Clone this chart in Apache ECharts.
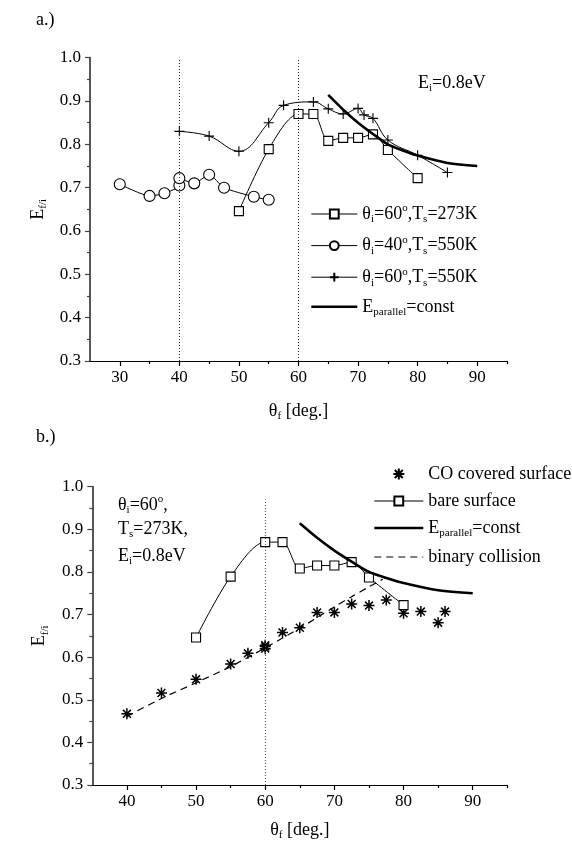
<!DOCTYPE html>
<html><head><meta charset="utf-8">
<script src="https://cdn.jsdelivr.net/npm/echarts@6/dist/echarts.min.js"></script>
<style>html,body{margin:0;padding:0;background:#fff}#c{width:572px;height:842px}</style>
</head><body><div id="c"></div>
<script>
// ---------- data ----------
const sqX   = [50, 55, 60, 62.5, 65, 67.5, 70, 72.5, 75, 80];
const sqY   = [0.646, 0.789, 0.870, 0.870, 0.808, 0.815, 0.815, 0.823, 0.787, 0.722];
const ciX   = [30, 35, 37.5, 40, 40, 42.5, 45, 47.5, 52.5, 55];
const ciY   = [0.708, 0.681, 0.687, 0.705, 0.722, 0.710, 0.730, 0.700, 0.679, 0.672];
const plX   = [40, 45, 50, 55, 57.5, 62.5, 65, 67.5, 70, 71, 72.5, 75, 80, 85];
const plY   = [0.830, 0.819, 0.784, 0.850, 0.890, 0.898, 0.882, 0.870, 0.883, 0.868, 0.860, 0.810, 0.775, 0.735];
const epX   = [65, 67.5, 70, 72.5, 75, 77.5, 80, 85, 90];
const epY   = [0.914, 0.880, 0.850, 0.824, 0.800, 0.786, 0.774, 0.757, 0.750];
const stX   = [40, 45, 50, 55, 57.5, 60, 60, 60, 62.5, 65, 67.5, 70, 72.5, 75, 77.5, 80, 82.5, 85, 86];
const stY   = [0.467, 0.516, 0.548, 0.584, 0.609, 0.620, 0.625, 0.628, 0.658, 0.669, 0.705, 0.705, 0.725, 0.721, 0.734, 0.703, 0.707, 0.681, 0.707];
const bcX   = [40, 45, 50, 55, 60, 65, 70, 72.5, 75, 77];
const bcY   = [0.461, 0.503, 0.540, 0.578, 0.622, 0.668, 0.718, 0.742, 0.765, 0.783];
const vLinesA = [40, 60];
const vLineB  = 60;
const vLineBTop = 0.97;
const xMajorA = [30, 40, 50, 60, 70, 80, 90];
const xMinorA = [35, 45, 55, 65, 75, 85, 95];
const xMajorB = [40, 50, 60, 70, 80, 90];
const xMinorB = [45, 55, 65, 75, 85, 95];

// ---------- styling ----------
const F = '"Liberation Serif","Times New Roman",serif';
const rich = {
  n: {fontFamily: F, fontSize: 18, lineHeight: 22, color: '#000'},
  s: {fontFamily: F, fontSize: 11, lineHeight: 11, verticalAlign: 'bottom', color: '#000', padding: [3, 0, 0, 0]},
  p: {fontFamily: F, fontSize: 11, lineHeight: 11, verticalAlign: 'top', color: '#000'}
};
const pair = (xs, ys) => xs.map((x, i) => [x, ys[i]]);
const plusPath = 'path://M5,0L5,10M0,5L10,5';
const starPath = 'path://M5,0L5,10M0,5L10,5M1.4,1.4L8.6,8.6M8.6,1.4L1.4,8.6';
const noSym = {color: 'rgba(0,0,0,0)', borderColor: 'rgba(0,0,0,0)', borderWidth: 0};
const thinL = {color: '#000', width: 1};
const thickL = {color: '#000', width: 2.6};

function yAx(gi, gap) {
  return {
    gridIndex: gi, type: 'value', min: 0.3, max: 1.0, interval: 0.1,
    axisLine: {show: true, lineStyle: {color: '#444', width: 1.8}},
    axisTick: {show: true, length: 5, lineStyle: {color: '#444', width: 1.2}},
    minorTick: {show: true, splitNumber: 2, length: 3, lineStyle: {color: '#444', width: 1.2}},
    splitLine: {show: false},
    axisLabel: {fontFamily: F, fontSize: 17, color: '#000', margin: 9, formatter: v => v.toFixed(1)},
    name: '{n|E}{s|f/i}', nameLocation: 'middle', nameRotate: 90, nameGap: gap,
    nameTextStyle: {rich: rich}
  };
}
function xAxMain(gi, mn, majors, gap) {
  return {
    gridIndex: gi, type: 'value', min: mn, max: 95, position: 'bottom',
    axisLine: {show: true, lineStyle: {color: '#000', width: 1.2}},
    axisTick: {show: true, length: 5, customValues: majors, lineStyle: {color: '#000', width: 1.2}},
    axisLabel: {customValues: majors, fontFamily: F, fontSize: 17, color: '#000', margin: 8},
    splitLine: {show: false},
    name: '{n|θ}{s|f}{n| [deg.]}', nameLocation: 'middle', nameGap: gap,
    nameTextStyle: {rich: rich}
  };
}
function xAxMinor(gi, mn, minors) {
  return {
    gridIndex: gi, type: 'value', min: mn, max: 95, position: 'bottom',
    axisLine: {show: false},
    axisTick: {show: true, length: 3, customValues: minors, lineStyle: {color: '#000', width: 1.2}},
    axisLabel: {show: false}, splitLine: {show: false}
  };
}
const sqStyle = {symbol: 'rect', symbolSize: 9, itemStyle: {color: '#fff', borderColor: '#000', borderWidth: 1.1}, lineStyle: {color: '#000', width: 1}};

const option = {
  animation: false,
  backgroundColor: '#fff',
  textStyle: {fontFamily: F},
  grid: [
    {left: 90, top: 57.7, width: 417, height: 303.3},
    {left: 92.3, top: 486.7, width: 415, height: 299}
  ],
  xAxis: [xAxMain(0, 25, xMajorA, 39), xAxMinor(0, 25, xMinorA), xAxMain(1, 35, xMajorB, 34), xAxMinor(1, 35, xMinorB)],
  yAxis: [yAx(0, 40), yAx(1, 42)],
  legend: [
    {
      orient: 'vertical', left: 310, top: 203, padding: 0, itemWidth: 46, itemHeight: 11, itemGap: 9.6,
      data: [{name: 'sqA', lineStyle: thinL}, {name: 'ciA', lineStyle: thinL}, {name: 'plA', lineStyle: thinL},
             {name: 'epA', itemStyle: noSym, lineStyle: thickL}],
      formatter: n => ({
        sqA: '{n|θ}{s|i}{n|=60}{p|o}{n|,T}{s|s}{n|=273K}',
        ciA: '{n|θ}{s|i}{n|=40}{p|o}{n|,T}{s|s}{n|=550K}',
        plA: '{n|θ}{s|i}{n|=60}{p|o}{n|,T}{s|s}{n|=550K}',
        epA: '{n|E}{s|parallel}{n|=const}'
      })[n],
      textStyle: {rich: rich}
    },
    {
      orient: 'vertical', left: 373, top: 465, padding: 0, itemWidth: 49, itemHeight: 11, itemGap: 9,
      data: ['stB', {name: 'sqB', lineStyle: thinL}, {name: 'epB', itemStyle: noSym, lineStyle: thickL},
             {name: 'bcB', itemStyle: noSym, lineStyle: {color: '#000', width: 1.2, type: [7, 5]}}],
      formatter: n => ({
        stB: '{n|CO covered surface}',
        sqB: '{n|bare surface}',
        epB: '{n|E}{s|parallel}{n|=const}',
        bcB: '{n|binary collision}'
      })[n],
      textStyle: {rich: rich}
    }
  ],
  graphic: [
    {type: 'text', left: 36, top: 11, style: {text: '{n|a.)}', rich: rich}},
    {type: 'text', left: 36, top: 428, style: {text: '{n|b.)}', rich: rich}},
    {type: 'text', left: 418, top: 74, style: {text: '{n|E}{s|i}{n|=0.8eV}', rich: rich}},
    {type: 'text', left: 118, top: 494, style: {text: '{n|θ}{s|i}{n|=60}{p|o}{n|,}', rich: rich}},
    {type: 'text', left: 118, top: 520, style: {text: '{n|T}{s|s}{n|=273K,}', rich: rich}},
    {type: 'text', left: 118, top: 547, style: {text: '{n|E}{s|i}{n|=0.8eV}', rich: rich}}
  ],
  series: [
    Object.assign({name: 'sqA', type: 'line', xAxisIndex: 0, yAxisIndex: 0, smooth: 0.3, data: pair(sqX, sqY), z: 3,
      markLine: {silent: true, symbol: 'none', label: {show: false}, lineStyle: {type: [1, 2], color: '#222', width: 1},
        data: vLinesA.map(x => [{coord: [x, 0.3]}, {coord: [x, 1.0]}])}}, sqStyle),
    {name: 'ciA', type: 'line', xAxisIndex: 0, yAxisIndex: 0, smooth: 0.2, data: pair(ciX, ciY), z: 3,
      symbol: 'circle', symbolSize: 11, itemStyle: {color: '#fff', borderColor: '#000', borderWidth: 1.1}, lineStyle: {color: '#000', width: 1}},
    {name: 'plA', type: 'line', xAxisIndex: 0, yAxisIndex: 0, smooth: 0.4, data: pair(plX, plY), z: 3,
      symbol: plusPath, symbolSize: 10, itemStyle: {color: '#000', borderColor: '#000', borderWidth: 1.1}, lineStyle: {color: '#000', width: 1}},
    {name: 'epA', type: 'line', xAxisIndex: 0, yAxisIndex: 0, smooth: 0.3, data: pair(epX, epY), z: 4,
      symbol: 'none', lineStyle: {color: '#000', width: 2.6}, itemStyle: {color: '#000'}},

    {name: 'stB', type: 'scatter', xAxisIndex: 2, yAxisIndex: 1, data: pair(stX, stY), z: 3,
      symbol: starPath, symbolSize: 11, itemStyle: {color: '#000', borderColor: '#000', borderWidth: 1.5, opacity: 1}},
    Object.assign({name: 'sqB', type: 'line', xAxisIndex: 2, yAxisIndex: 1, smooth: 0.3, data: pair(sqX, sqY), z: 3,
      markLine: {silent: true, symbol: 'none', label: {show: false}, lineStyle: {type: [1, 2], color: '#555', width: 1},
        data: [[{coord: [vLineB, 0.3]}, {coord: [vLineB, vLineBTop]}]]}}, sqStyle),
    {name: 'epB', type: 'line', xAxisIndex: 2, yAxisIndex: 1, smooth: 0.3, data: pair(epX, epY), z: 4,
      symbol: 'none', lineStyle: {color: '#000', width: 2.6}, itemStyle: {color: '#000'}},
    {name: 'bcB', type: 'line', xAxisIndex: 2, yAxisIndex: 1, smooth: 0.3, data: pair(bcX, bcY), z: 2,
      symbol: 'none', lineStyle: {color: '#000', width: 1.2, type: [7, 5]}, itemStyle: {color: '#000'}}
  ]
};
const chart = echarts.init(document.getElementById('c'));
chart.setOption(option);
</script>
</body></html>
